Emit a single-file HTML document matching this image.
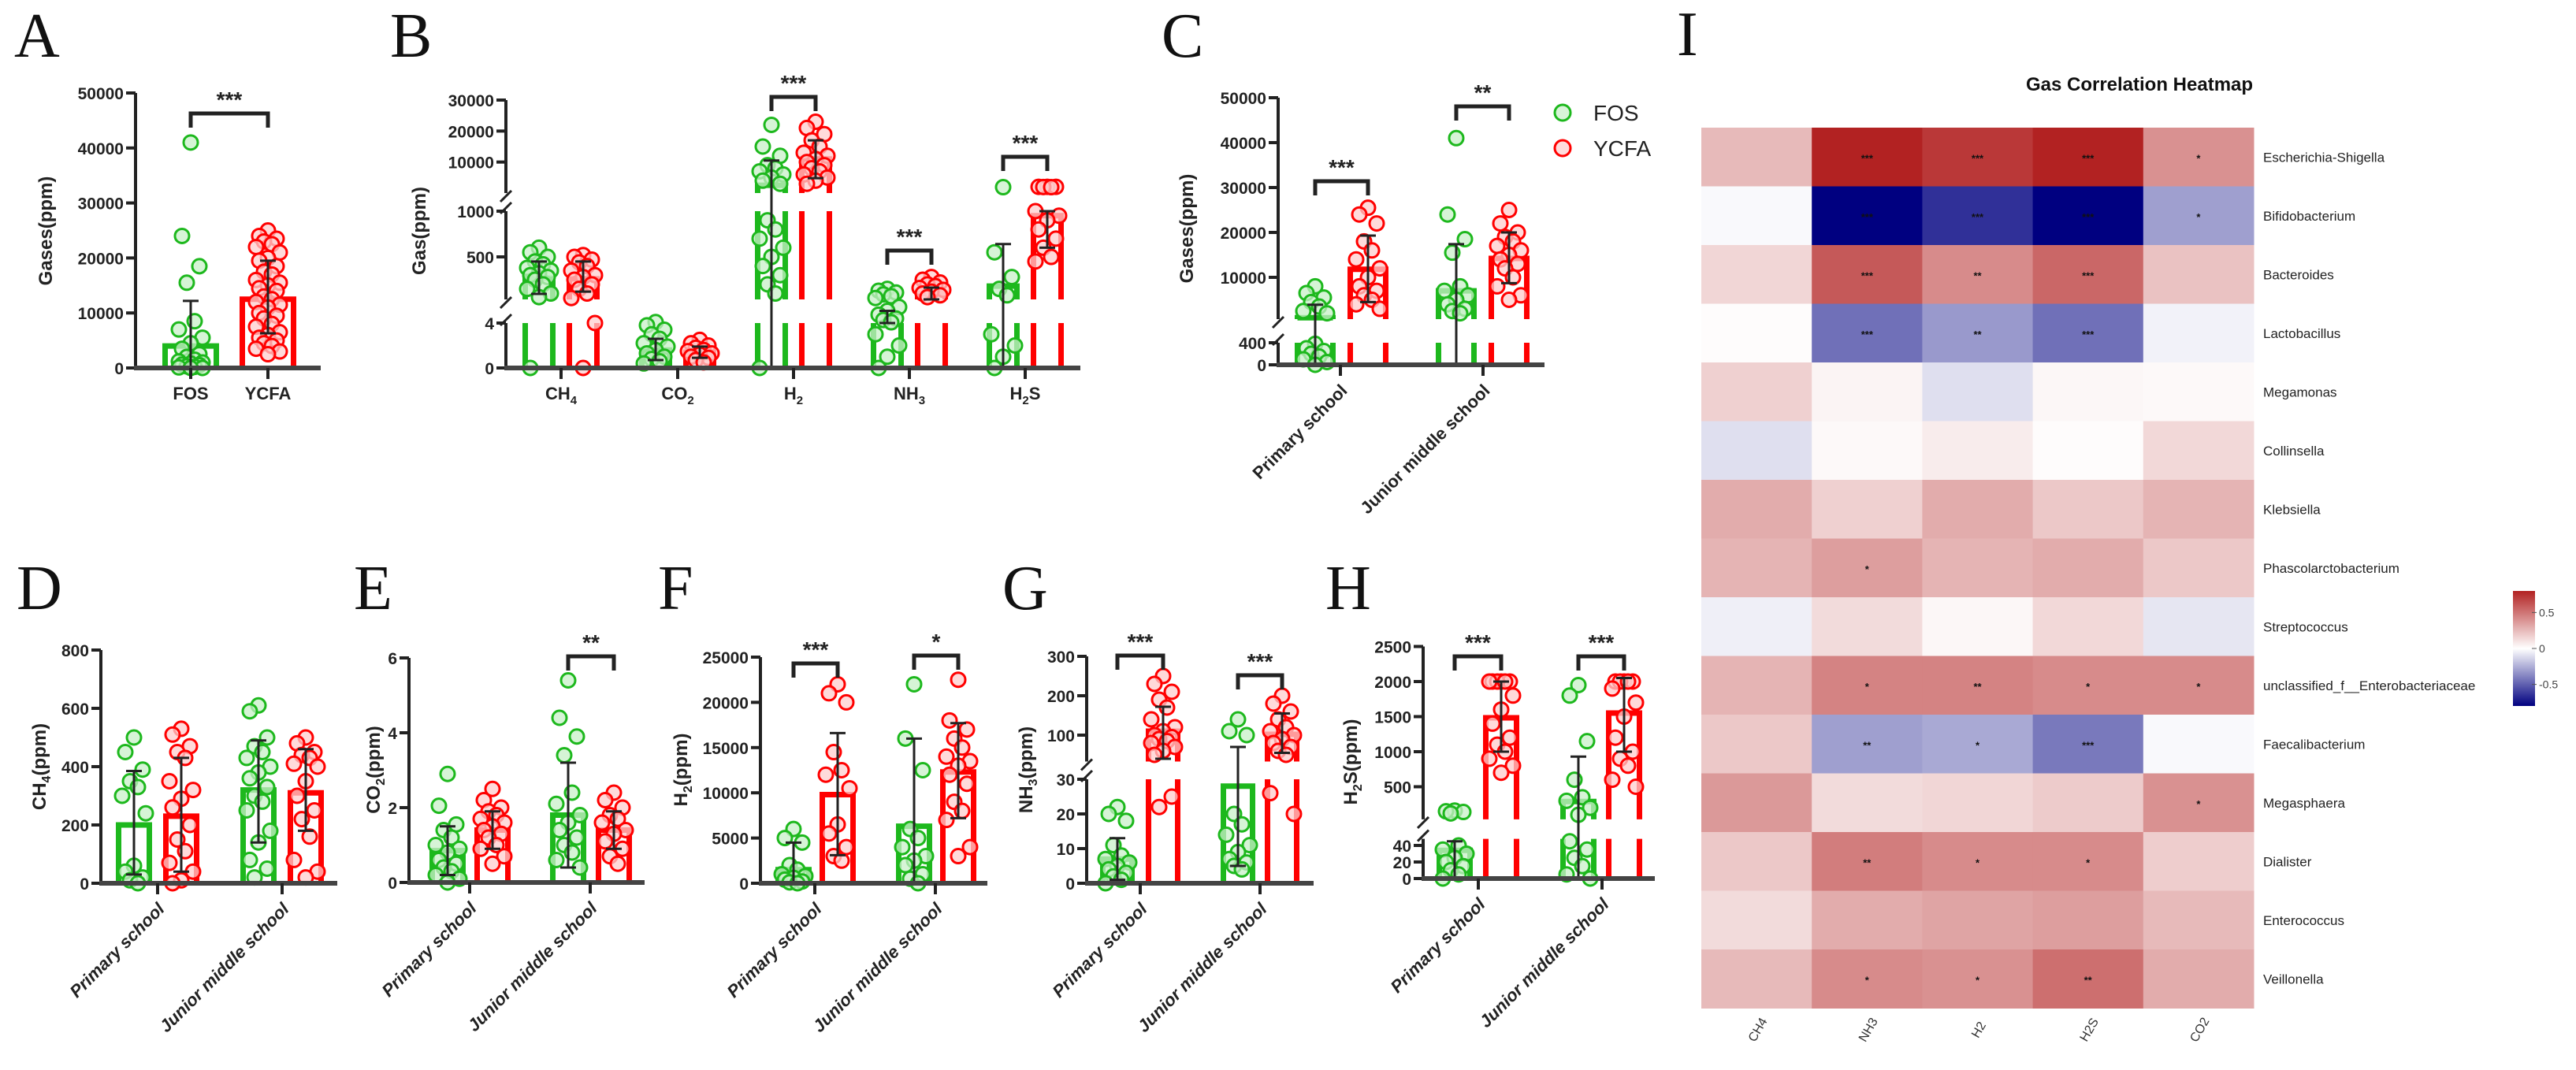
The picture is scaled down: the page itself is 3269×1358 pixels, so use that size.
<!DOCTYPE html>
<html><head><meta charset="utf-8"><title>Gas figure</title>
<style>
html,body{margin:0;padding:0;background:#fff;}
svg{display:block;}
.tk{font-family:"Liberation Sans Narrow","Liberation Sans",sans-serif;font-weight:bold;font-size:21px;fill:#222;}
.yt{font-family:"Liberation Sans",sans-serif;font-weight:bold;font-size:24px;fill:#222;}
.cat{font-family:"Liberation Sans",sans-serif;font-weight:bold;font-size:22px;fill:#222;}
.lett{font-family:"Liberation Serif",serif;font-size:80px;fill:#111;}
.sig{font-family:"Liberation Sans",sans-serif;font-weight:bold;font-size:28px;fill:#222;}
.hm{font-family:"Liberation Sans Narrow","Liberation Sans",sans-serif;font-size:17px;fill:#222;}
</style></head>
<body>
<svg id="fig" width="3269" height="1358" viewBox="0 0 3269 1358" xmlns="http://www.w3.org/2000/svg">
<defs>
<linearGradient id="cbar" x1="0" y1="0" x2="0" y2="1">
<stop offset="0" stop-color="#b22222"/><stop offset="0.5" stop-color="#ffffff"/><stop offset="1" stop-color="#000080"/>
</linearGradient>
</defs>
<text class="lett" x="18" y="72">A</text>
<text class="lett" x="495" y="72">B</text>
<text class="lett" x="1474" y="72">C</text>
<text class="lett" x="21" y="773">D</text>
<text class="lett" x="449" y="773">E</text>
<text class="lett" x="835" y="773">F</text>
<text class="lett" x="1272" y="773">G</text>
<text class="lett" x="1682" y="773">H</text>
<text class="lett" x="2128" y="70">I</text>
<g id="legend">
<circle cx="1983" cy="143" r="10" fill="rgba(200,240,200,0.7)" stroke="#1db81d" stroke-width="3"/>
<text x="2022" y="153" font-family="Liberation Sans Narrow, Liberation Sans, sans-serif" font-size="28" fill="#222">FOS</text>
<circle cx="1983" cy="188" r="10" fill="rgba(255,205,205,0.7)" stroke="#ff0000" stroke-width="3"/>
<text x="2022" y="198" font-family="Liberation Sans Narrow, Liberation Sans, sans-serif" font-size="28" fill="#222">YCFA</text>
</g>
</svg>
<script>
// ---------- data ----------
// Panel A
const aCats = ["FOS","YCFA"];
const aTicks = [0,10000,20000,30000,40000,50000];
const aMeans = [4000,12500];
const aLo = [0,6300];
const aHi = [12200,19500];
const aFos = [41000,24000,18500,15500,8500,7000,5500,4500,3500,2500,2000,1500,1200,1000,800,600,500,300,200,100,0,0];
const aYcfa = [25000,24000,23500,23000,22500,22000,21000,20000,19500,18500,17500,17000,16000,15500,15000,14500,14000,13000,12500,12000,11500,11000,10000,9500,9000,8000,7500,6500,6000,5500,5000,4500,4000,3500,3000,2500];
// Panel B
const bCats = ["CH4","CO2","H2","NH3","H2S"];
const bTicks = [0,4,500,1000,10000,20000,30000];
const bFosMeans = [270,1.6,2500,12,180];
const bFosLo = [95,0.7,0,4,0];
const bFosHi = [450,2.6,10500,20,640];
const bYcfaMeans = [260,1.4,11000,100,950];
const bYcfaLo = [120,0.9,4800,35,600];
const bYcfaHi = [450,1.9,17000,164,1000];
const bFosPts = [
 [600,550,500,450,420,380,350,320,300,280,250,200,150,100,60,0],
 [5.3,3.8,3.4,3,2.6,2.2,1.9,1.6,1.3,1.0,0.8,0.6,0.4],
 [22000,15000,12000,9000,8000,7000,6000,5000,4000,3000,900,800,700,600,500,400,300,200,100,0],
 [150,130,110,90,70,50,25,20,15,10,8,5,3,2,1,0],
 [1900,550,280,150,80,3,2,1,0]];
const bYcfaPts = [
 [520,500,470,440,400,350,300,280,250,200,150,100,50,4,0],
 [2.5,2.2,2,1.8,1.6,1.5,1.3,1.2,1,0.9,0.7,0.5],
 [23000,21000,19000,17000,15000,13000,12000,11000,10000,9000,8000,7000,6000,5000,4000,3000],
 [280,250,220,200,180,160,140,120,100,80,60],
 [2000,2000,2000,1950,1900,1000,950,900,800,700,600,500,450]];
// Panel C
const schoolCats = ["Primary school","Junior middle school"];
const cTicks = [0,400,10000,20000,30000,40000,50000];
const cFosMeans = [1000,7000];
const cFosLo = [0,0];
const cFosHi = [3900,17400];
const cYcfaMeans = [11800,14200];
const cYcfaLo = [4500,8700];
const cYcfaHi = [19300,20000];
const cFosPts = [[8000,6500,5500,4500,3500,2500,2000,380,300,250,200,150,100,50,0],[41000,24000,18500,15500,8000,7000,6000,5000,4000,3000,2500,2000]];
const cYcfaPts = [[25500,24000,22000,18000,16000,14000,12000,10000,8000,7000,6000,5000,4000,3000],[25000,22000,20000,19000,18000,17000,16000,15000,14000,13000,12000,10000,8000,6000,5000]];
// Panel D (CH4)
const dTicks = [0,200,400,600,800];
const dFosMeans = [200,320], dFosLo = [30,140], dFosHi = [385,490];
const dYcfaMeans = [230,310], dYcfaLo = [40,180], dYcfaHi = [430,460];
const dFosPts = [[500,450,390,350,330,300,240,60,40,20,10,0],[610,590,500,470,450,430,400,380,360,330,300,280,250,180,140,80,50,20]];
const dYcfaPts = [[530,510,470,450,430,350,320,290,260,200,150,110,70,40,10,0],[500,480,450,440,430,410,400,350,300,250,220,160,80,40,20]];
// Panel E (CO2)
const eTicks = [0,2,4,6];
const eFosMeans = [0.85,1.8], eFosLo = [0.2,0.4], eFosHi = [1.5,3.2];
const eYcfaMeans = [1.4,1.4], eYcfaLo = [0.9,0.9], eYcfaHi = [1.9,1.9];
const eFosPts = [[2.9,2.05,1.55,1.4,1.2,1.0,0.9,0.8,0.6,0.5,0.4,0.3,0.2,0.1,0],[5.4,4.4,3.9,3.4,2.4,2.1,1.8,1.6,1.4,1.2,1.0,0.8,0.6,0.4]];
const eYcfaPts = [[2.5,2.2,2.0,1.9,1.8,1.7,1.6,1.5,1.4,1.3,1.2,1.0,0.9,0.7,0.5],[2.4,2.2,2.0,1.8,1.7,1.6,1.4,1.3,1.1,0.9,0.7,0.5]];
// Panel F (H2)
const fTicks = [0,5000,10000,15000,20000,25000];
const fFosMeans = [1500,6300], fFosLo = [0,0], fFosHi = [4500,16000];
const fYcfaMeans = [9800,12300], fYcfaLo = [3100,7200], fYcfaHi = [16600,17700];
const fFosPts = [[6000,5000,4500,2000,1500,1000,800,600,400,200,100,0],[22000,16000,12500,6000,5000,4000,3000,2500,2000,1000,500,0]];
const fYcfaPts = [[22000,21000,20000,14500,12500,12000,10500,6500,5500,4000,3000,2500],[22500,18000,17000,16000,15000,14000,13500,13000,12000,11000,9000,8000,7000,4000,3000]];
// Panel G (NH3)
const gTicks = [0,10,20,30,100,200,300];
const gFosMeans = [7,28], gFosLo = [1,5], gFosHi = [13,70];
const gYcfaMeans = [110,102], gYcfaLo = [40,55], gYcfaHi = [172,155];
const gFosPts = [[22,20,18,11,8,7,6,5,4,3,2,1,0],[140,110,100,20,17,14,11,9,7,6,5,4]];
const gYcfaPts = [[250,230,210,190,170,140,120,110,100,95,90,85,80,70,60,50,25,22],[200,180,160,140,120,110,100,90,80,70,60,50,26,20]];
// Panel H (H2S)
const hTicks = [0,20,40,500,1000,1500,2000,2500];
const hFosMeans = [34,290], hFosLo = [0,0], hFosHi = [45,930];
const hYcfaMeans = [1483,1550], hYcfaLo = [1000,1000], hYcfaHi = [2000,2050];
const hFosPts = [[160,150,140,120,40,35,30,25,20,15,10,5,0],[1950,1800,1150,600,350,300,200,100,45,35,25,15,5,0]];
const hYcfaPts = [[2000,2000,2000,2000,2000,2000,1800,1600,1400,1200,1100,1000,900,800,700],[2000,2000,2000,2000,2000,1900,1700,1500,1200,1000,900,800,600,500]];
// Heatmap I
const hmCols = ["CH4","NH3","H2","H2S","CO2"];
const hmRows = ["Escherichia-Shigella","Bifidobacterium","Bacteroides","Lactobacillus","Megamonas","Collinsella","Klebsiella","Phascolarctobacterium","Streptococcus","unclassified_f__Enterobacteriaceae","Faecalibacterium","Megasphaera","Dialister","Enterococcus","Veillonella"];
const hmVals = [
 [0.25,0.8,0.72,0.8,0.4],
 [-0.02,-0.8,-0.65,-0.8,-0.3],
 [0.15,0.6,0.42,0.55,0.22],
 [0.01,-0.45,-0.32,-0.45,-0.04],
 [0.17,0.04,-0.1,0.03,0.02],
 [-0.1,0.02,0.07,0.01,0.14],
 [0.3,0.17,0.3,0.2,0.27],
 [0.27,0.35,0.27,0.3,0.2],
 [-0.05,0.13,0.03,0.14,-0.08],
 [0.27,0.45,0.45,0.42,0.42],
 [0.2,-0.3,-0.27,-0.42,-0.02],
 [0.37,0.13,0.15,0.19,0.4],
 [0.2,0.47,0.42,0.42,0.18],
 [0.13,0.3,0.33,0.35,0.25],
 [0.25,0.42,0.4,0.52,0.3]];
const hmStars = [
 ["","***","***","***","*"],["","***","***","***","*"],["","***","**","***",""],["","***","**","***",""],
 ["","","","",""],["","","","",""],["","","","",""],["","*","","",""],["","","","",""],
 ["","*","**","*","*"],["","**","*","***",""],["","","","","*"],["","**","*","*",""],["","","","",""],["","*","*","**",""]];
const cbTicks = [0.5,0,-0.5];

// ---------- drawing ----------
const NS = "http://www.w3.org/2000/svg";
const svg = document.getElementById('fig');
const GREEN = "#1db81d", RED = "#ff0000";
const GFILL = "rgba(200,240,200,0.75)", RFILL = "rgba(255,205,205,0.75)";
function mk(tag, attrs, parent){
  const e = document.createElementNS(NS, tag);
  for (const k in attrs) e.setAttribute(k, attrs[k]);
  (parent || svg).appendChild(e);
  return e;
}
function lin(s, v){ return s.y0 + (v - s.v0) * (s.y1 - s.y0) / (s.v1 - s.v0); }
function scaleOf(segs){
  return function(v){
    for (let i = 0; i < segs.length; i++){
      const s = segs[i];
      if (v <= s.v1){
        if (i === 0 || v >= s.v0) return lin(s, v);
        const p = segs[i-1];
        const t = (v - p.v1) / (s.v0 - p.v1);
        return p.y1 + (lin(s, s.v0) - p.y1) * Math.max(0, Math.min(1, t));
      }
    }
    return lin(segs[segs.length-1], v);
  };
}
const jit = [0,-11,11,-5,5,-15,15];
function fmt(v){ return String(v); }

function panel(P){
  const g = mk('g', {});
  
  
  const y = scaleOf(P.segs);
  const base = lin(P.segs[0], P.segs[0].v0);
  // y axis segments
  P.segs.forEach((s, i) => {
    const yb = (i === 0) ? base + 3 : lin(s, s.v0);
    const l = mk('line', {x1:P.ax, x2:P.ax, y1:yb, y2:s.y1, stroke:'#222', 'stroke-width':4}, g);
    
    
    if (i > 0){
      const p = P.segs[i-1];
      const ym1 = p.y1 - 4, ym2 = lin(s, s.v0) + 4;
      [ym1, ym2].forEach(yy => {
        const b = mk('line', {x1:P.ax-7, x2:P.ax+7, y1:yy+7, y2:yy-7, stroke:'#222', 'stroke-width':3}, g);
        
        
      });
    }
  });
  // ticks
  P.ticks.forEach(v => {
    const yy = y(v);
    const t = mk('line', {x1:P.ax-12, x2:P.ax, y1:yy, y2:yy, stroke:'#222', 'stroke-width':4}, g);
    
    
    const tx = mk('text', {x:P.ax-15, y:yy+8, 'text-anchor':'end', class:'tk'}, g);
    tx.textContent = fmt(v);
    
    
  });
  // y title
  const yt = mk('text', {x:P.tx, y:P.ty, class:'yt', 'text-anchor':'middle', transform:`rotate(-90 ${P.tx} ${P.ty})`}, g);
  if (P.title.sub){
    yt.appendChild(document.createTextNode(P.title.a));
    const ts = mk('tspan', {'font-size':16, dy:6}, yt); ts.textContent = P.title.sub;
    const ts2 = mk('tspan', {dy:-6}, yt); ts2.textContent = P.title.b;
  } else yt.textContent = P.title.a;
  
  
  // groups
  P.groups.forEach((G, gi) => {
    const col = G.col, w = P.bw;
    // bar outline per segment
    P.segs.forEach((s, i) => {
      if (i > 0 && G.mean <= Math.max(s.v0, P.segs[i-1].v1)) return;
      const yb = (i === 0) ? base : lin(s, s.v0);
      const topv = Math.min(G.mean, s.v1);
      const yt2 = lin(s, Math.max(topv, s.v0));
      let d = `M${G.x-w/2},${yb} L${G.x-w/2},${yt2}`;
      if (G.mean <= s.v1) d += ` L${G.x+w/2},${yt2}`; else d += ` M${G.x+w/2},${yt2}`;
      d += ` L${G.x+w/2},${yb}`;
      const b = mk('path', {d:d, fill:'none', stroke:col, 'stroke-width':7, 'stroke-linejoin':'miter'}, g);
      
      
    });
    // points
    G.pts.forEach((v, i) => {
      const c = mk('circle', {cx:G.x + jit[i % jit.length], cy:y(v), r:9, fill:col === RED ? RFILL : GFILL, stroke:col, 'stroke-width':3}, g);
      
      
    });
    // error bar
    const e1 = y(G.lo), e2 = y(G.hi);
    const eb = mk('path', {d:`M${G.x},${e1} L${G.x},${e2} M${G.x-10},${e2} L${G.x+10},${e2} M${G.x-10},${e1} L${G.x+10},${e1}`, stroke:'#222', 'stroke-width':3, fill:'none'}, g);
    
    
  });
  // x axis
  const xa = mk('line', {x1:P.ax-2, x2:P.axEnd, y1:base, y2:base, stroke:'#444', 'stroke-width':6}, g);
  
  
  P.cats.forEach(C => {
    const t = mk('line', {x1:C.x, x2:C.x, y1:base, y2:base+14, stroke:'#222', 'stroke-width':4}, g);
    
    
    let tx;
    if (P.rot){
      const lx = C.x + 10, ly = base + 34;
      tx = mk('text', {x:lx, y:ly, class:'cat', 'text-anchor':'end', transform:`rotate(-45 ${lx} ${ly})`, 'font-style':P.italic ? 'italic' : 'normal'}, g);
      tx.textContent = C.label;
    } else {
      tx = mk('text', {x:C.x, y:base+40, class:'cat', 'text-anchor':'middle'}, g);
      const m = C.label.match(/^([A-Z]+?)(\d)?([A-Z]*)$/);
      if (P.sub && m && m[2]){
        tx.appendChild(document.createTextNode(m[1]));
        const ts = mk('tspan', {'font-size':15, dy:6}, tx); ts.textContent = m[2];
        if (m[3]){ const t3 = mk('tspan', {dy:-6}, tx); t3.textContent = m[3]; }
      } else tx.textContent = C.label;
    }
    
    
  });
  // significance
  P.sig.forEach(S => {
    const p = mk('path', {d:`M${S.x1},${S.y+18} L${S.x1},${S.y} L${S.x2},${S.y} L${S.x2},${S.y+18}`, fill:'none', stroke:'#222', 'stroke-width':5}, g);
    
    
    const t = mk('text', {x:(S.x1+S.x2)/2, y:S.y-8, class:'sig', 'text-anchor':'middle'}, g);
    t.textContent = S.t;
    
    
  });
}
function two(xs, fm, flo, fhi, fp, ym, ylo, yhi, yp){
  return [
    {x:xs[0], col:GREEN, key:'fos-primary', mean:fm[0], lo:flo[0], hi:fhi[0], pts:fp[0]},
    {x:xs[1], col:RED, key:'ycfa-primary', mean:ym[0], lo:ylo[0], hi:yhi[0], pts:yp[0]},
    {x:xs[2], col:GREEN, key:'fos-junior', mean:fm[1], lo:flo[1], hi:fhi[1], pts:fp[1]},
    {x:xs[3], col:RED, key:'ycfa-junior', mean:ym[1], lo:ylo[1], hi:yhi[1], pts:yp[1]}];
}

// Panel A
panel({name:'panel-a-total-gas', ax:172, axEnd:407, bw:65,
  segs:[{v0:0,v1:50000,y0:467,y1:118}], ticks:aTicks,
  title:{a:'Gases(ppm)'}, tx:66, ty:293,
  groups:[{x:242,col:GREEN,key:'fos',mean:aMeans[0],lo:aLo[0],hi:aHi[0],pts:aFos},
          {x:340,col:RED,key:'ycfa',mean:aMeans[1],lo:aLo[1],hi:aHi[1],pts:aYcfa}],
  cats:[{x:242,label:aCats[0]},{x:340,label:aCats[1]}],
  sig:[{x1:242,x2:340,y:144,t:'***'}]});

// Panel B
const bX = [712,860,1007,1154,1301];
const bGroups = [];
bCats.forEach((c, i) => {
  bGroups.push({x:bX[i]-28,col:GREEN,key:'fos-'+c.toLowerCase(),mean:bFosMeans[i],lo:bFosLo[i],hi:bFosHi[i],pts:bFosPts[i]});
  bGroups.push({x:bX[i]+28,col:RED,key:'ycfa-'+c.toLowerCase(),mean:bYcfaMeans[i],lo:bYcfaLo[i],hi:bYcfaHi[i],pts:bYcfaPts[i]});
});
panel({name:'panel-b-gas-types', ax:642, axEnd:1371, bw:35, sub:true,
  segs:[{v0:0,v1:4,y0:467,y1:410},{v0:35,v1:1000,y0:380,y1:268},{v0:0,v1:30000,y0:245,y1:127}],
  ticks:bTicks, title:{a:'Gas(ppm)'}, tx:540, ty:293, groups:bGroups,
  cats:bCats.map((c,i)=>({x:bX[i],label:c})),
  sig:[{x1:979,x2:1035,y:123,t:'***'},{x1:1126,x2:1182,y:318,t:'***'},{x1:1273,x2:1329,y:199,t:'***'}]});

// Panel C
panel({name:'panel-c-school-total', ax:1622, axEnd:1960, bw:45, rot:true,
  segs:[{v0:0,v1:400,y0:463,y1:435},{v0:700,v1:50000,y0:405,y1:124}],
  ticks:cTicks, title:{a:'Gases(ppm)'}, tx:1514, ty:290,
  groups:two([1669,1736,1848,1915], cFosMeans,cFosLo,cFosHi,cFosPts, cYcfaMeans,cYcfaLo,cYcfaHi,cYcfaPts),
  cats:[{x:1701,label:schoolCats[0]},{x:1882,label:schoolCats[1]}],
  sig:[{x1:1669,x2:1736,y:230,t:'***'},{x1:1848,x2:1915,y:135,t:'**'}]});

// Panel D
panel({name:'panel-d-ch4', ax:128, axEnd:428, bw:39, rot:true, italic:true,
  segs:[{v0:0,v1:800,y0:1121,y1:825}], ticks:dTicks,
  title:{a:'CH',sub:'4',b:'(ppm)'}, tx:58, ty:973,
  groups:two([170,230,328,388], dFosMeans,dFosLo,dFosHi,dFosPts, dYcfaMeans,dYcfaLo,dYcfaHi,dYcfaPts),
  cats:[{x:200,label:schoolCats[0]},{x:358,label:schoolCats[1]}], sig:[]});

// Panel E
panel({name:'panel-e-co2', ax:519, axEnd:818, bw:39, rot:true, italic:true,
  segs:[{v0:0,v1:6,y0:1120,y1:835}], ticks:eTicks,
  title:{a:'CO',sub:'2',b:'(ppm)'}, tx:482, ty:977,
  groups:two([568,625,721,779], eFosMeans,eFosLo,eFosHi,eFosPts, eYcfaMeans,eYcfaLo,eYcfaHi,eYcfaPts),
  cats:[{x:596,label:schoolCats[0]},{x:749,label:schoolCats[1]}],
  sig:[{x1:721,x2:779,y:833,t:'**'}]});

// Panel F
panel({name:'panel-f-h2', ax:965, axEnd:1253, bw:39, rot:true, italic:true,
  segs:[{v0:0,v1:25000,y0:1121,y1:834}], ticks:fTicks,
  title:{a:'H',sub:'2',b:'(ppm)'}, tx:872, ty:977,
  groups:two([1007,1063,1160,1216], fFosMeans,fFosLo,fFosHi,fFosPts, fYcfaMeans,fYcfaLo,fYcfaHi,fYcfaPts),
  cats:[{x:1034,label:schoolCats[0]},{x:1187,label:schoolCats[1]}],
  sig:[{x1:1007,x2:1063,y:842,t:'***'},{x1:1160,x2:1216,y:832,t:'*'}]});

// Panel G
panel({name:'panel-g-nh3', ax:1379, axEnd:1667, bw:37, rot:true, italic:true,
  segs:[{v0:0,v1:30,y0:1121,y1:989},{v0:33,v1:300,y0:966.5,y1:833}], ticks:gTicks,
  title:{a:'NH',sub:'3',b:'(ppm)'}, tx:1310, ty:977,
  groups:two([1418,1476,1571,1627], gFosMeans,gFosLo,gFosHi,gFosPts, gYcfaMeans,gYcfaLo,gYcfaHi,gYcfaPts),
  cats:[{x:1447,label:schoolCats[0]},{x:1599,label:schoolCats[1]}],
  sig:[{x1:1418,x2:1476,y:832,t:'***'},{x1:1571,x2:1627,y:857,t:'***'}]});

// Panel H
panel({name:'panel-h-h2s', ax:1806, axEnd:2100, bw:39, rot:true, italic:true,
  segs:[{v0:0,v1:48,y0:1115,y1:1064.6},{v0:35,v1:2500,y0:1039.9,y1:820.5}], ticks:hTicks,
  title:{a:'H',sub:'2',b:'S(ppm)'}, tx:1722, ty:967,
  groups:two([1846,1905,2003,2061], hFosMeans,hFosLo,hFosHi,hFosPts, hYcfaMeans,hYcfaLo,hYcfaHi,hYcfaPts),
  cats:[{x:1876,label:schoolCats[0]},{x:2033,label:schoolCats[1]}],
  sig:[{x1:1846,x2:1905,y:833,t:'***'},{x1:2003,x2:2061,y:833,t:'***'}]});

// ---------- heatmap ----------
const hmX0 = 2159, hmY0 = 162, cw = 140.2, rh = 74.5;
function hmColor(v){
  const t = Math.max(-1, Math.min(1, v / 0.8));
  const end = t >= 0 ? [178,34,34] : [0,0,128];
  const a = Math.abs(t);
  const c = end.map(e => Math.round(255 + (e - 255) * a));
  return `rgb(${c[0]},${c[1]},${c[2]})`;
}
const hg = mk('g', {});


const title = mk('text', {x:2715, y:115, 'text-anchor':'middle', 'font-family':'Liberation Sans Narrow, Liberation Sans, sans-serif', 'font-weight':'bold', 'font-size':24, fill:'#111'}, hg);
title.textContent = 'Gas Correlation Heatmap';


hmRows.forEach((r, ri) => {
  hmCols.forEach((c, ci) => {
    const cell = mk('rect', {x:hmX0 + ci*cw, y:hmY0 + ri*rh, width:cw + 0.5, height:rh + 0.5, fill:hmColor(hmVals[ri][ci])}, hg);
    
    
    if (hmStars[ri][ci]){
      const st = mk('text', {x:hmX0 + ci*cw + cw/2, y:hmY0 + ri*rh + rh/2 + 6, 'text-anchor':'middle', 'font-family':'Liberation Sans, sans-serif', 'font-size':13, 'font-weight':'bold', fill:'#111'}, hg);
      st.textContent = hmStars[ri][ci];
      
      
    }
  });
  const lb = mk('text', {x:2872, y:hmY0 + ri*rh + rh/2 + 6, class:'hm'}, hg);
  lb.textContent = r;
  
  
});
hmCols.forEach((c, ci) => {
  const lx = hmX0 + ci*cw + cw/2 + 6, ly = hmY0 + hmRows.length*rh + 30;
  const t = mk('text', {x:lx, y:ly, 'text-anchor':'middle', transform:`rotate(-60 ${lx} ${ly})`, 'font-family':'Liberation Sans Narrow, Liberation Sans, sans-serif', 'font-size':16, fill:'#333'}, hg);
  t.textContent = c;
  
  
});
// colorbar
const cbY0 = 750, cbY1 = 896;
const cb = mk('rect', {x:3189, y:cbY0, width:28, height:cbY1 - cbY0, fill:'url(#cbar)'}, hg);


cbTicks.forEach(v => {
  const yy = cbY0 + (0.8 - v) / 1.6 * (cbY1 - cbY0);
  const l = mk('line', {x1:3213, x2:3219, y1:yy, y2:yy, stroke:'#555', 'stroke-width':1}, hg);
  
  
  const t = mk('text', {x:3222, y:yy + 5, 'font-family':'Liberation Sans Narrow, Liberation Sans, sans-serif', 'font-size':14, fill:'#444'}, hg);
  t.textContent = String(v);
  
  
});
</script>
</body></html>
